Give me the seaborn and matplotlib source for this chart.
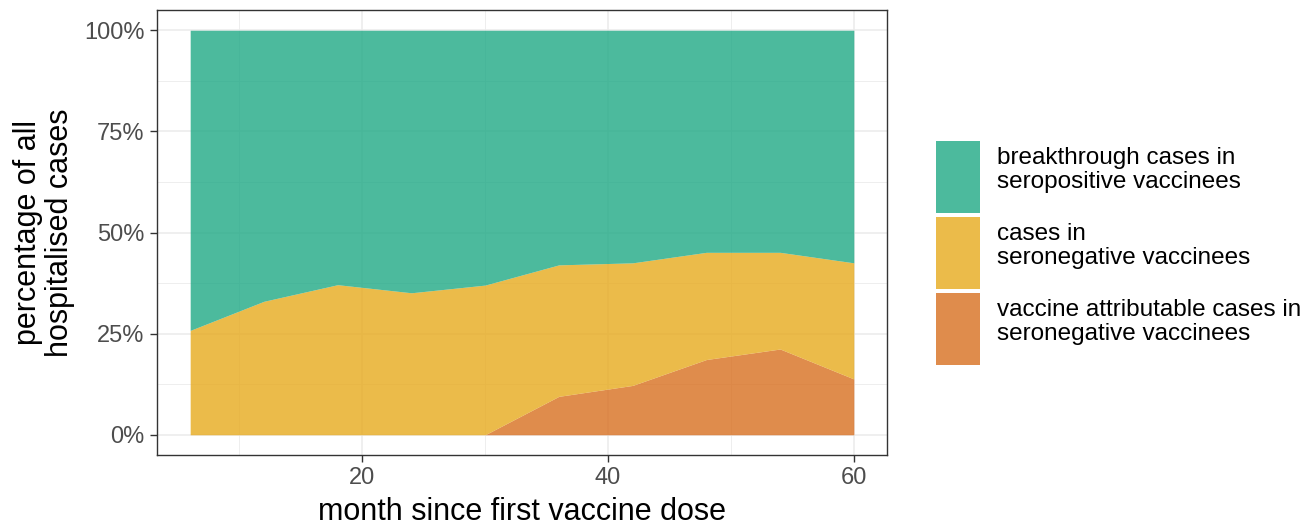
import numpy as np
import seaborn as sns
import matplotlib.pyplot as plt
from matplotlib.patches import Patch
from matplotlib.transforms import Affine2D
from matplotlib.ticker import FuncFormatter, MultipleLocator

# months since first dose
months = [6, 12, 18, 24, 30, 36, 42, 48, 54, 60]
# share of hospitalised cases (%)
vacc_attrib = [0, 0, 0, 0, 0, 9.5, 12.2, 18.6, 21.2, 13.8]
seroneg_total = [25.8, 33.0, 37.1, 35.1, 37.0, 42.0, 42.5, 45.1, 45.1, 42.5]

labels = ["breakthrough cases in\nseropositive vaccinees",
          "cases in\nseronegative vaccinees",
          "vaccine attributable cases in\nseronegative vaccinees"]
colors = ["#1FA985", "#E7AA1D", "#D86F1F"]

sns.set_theme(style="whitegrid")
plt.rcParams["font.family"] = ["Liberation Sans", "DejaVu Sans"]

seroneg_only = [t - a for t, a in zip(seroneg_total, vacc_attrib)]
seropos = [100 - t for t in seroneg_total]

fig = plt.figure(figsize=(13.16, 5.29), dpi=100)
ax = fig.add_axes([157 / 1316, 1 - 455 / 529, 730 / 1316, 445 / 529])

ax.stackplot(months, vacc_attrib, seroneg_only, seropos,
             colors=[colors[2], colors[1], colors[0]], alpha=0.8, linewidth=0)

ax.set_xlim(3.3, 62.7)
ax.set_ylim(-5, 105)
ax.xaxis.set_major_locator(MultipleLocator(20))
ax.xaxis.set_minor_locator(MultipleLocator(10))
ax.yaxis.set_major_locator(MultipleLocator(25))
ax.yaxis.set_minor_locator(MultipleLocator(12.5))
ax.yaxis.set_major_formatter(FuncFormatter(lambda v, p: f"{v:.0f}%"))

ax.set_facecolor("white")
ax.grid(which="major", color="#EBEBEB", linewidth=1.1)
ax.grid(which="minor", color="#EBEBEB", linewidth=0.6)
ax.set_axisbelow(True)
for s in ax.spines.values():
    s.set_color("#333333")
    s.set_linewidth(1.0)

ax.tick_params(which="major", length=5, width=1, color="#333333",
               labelsize=17, labelcolor="#4D4D4D", pad=4, bottom=True, left=True)
ax.tick_params(which="minor", length=0)

ax.set_xlabel("month since first vaccine dose", fontsize=22, color="black")
ax.set_ylabel("percentage of all\nhospitalised cases", fontsize=22, color="black",
              linespacing=1.05)
ax.xaxis.set_label_coords(0.5, -0.094)
ax.yaxis.set_label_coords(-0.113, 0.5)

handles = [Patch(facecolor=c, edgecolor="white", alpha=0.8, linewidth=0) for c in colors]
leg = fig.legend(handles, labels, loc="upper left", bbox_to_anchor=(936 / 1316, 1 - 141 / 529),
                 bbox_transform=fig.transFigure, frameon=False, fontsize=17.5,
                 handlelength=1.8, handleheight=4.18, handletextpad=0.7,
                 labelspacing=0.16, borderpad=0, borderaxespad=0)
for t in leg.get_texts():
    t.set_linespacing(1.1)
    t.set_color("black")
    # nudge the label block up a little so it sits like the reference
    t.set_transform(t.get_transform() + Affine2D().translate(0, 5))

fig.savefig("out.png", dpi=100)
